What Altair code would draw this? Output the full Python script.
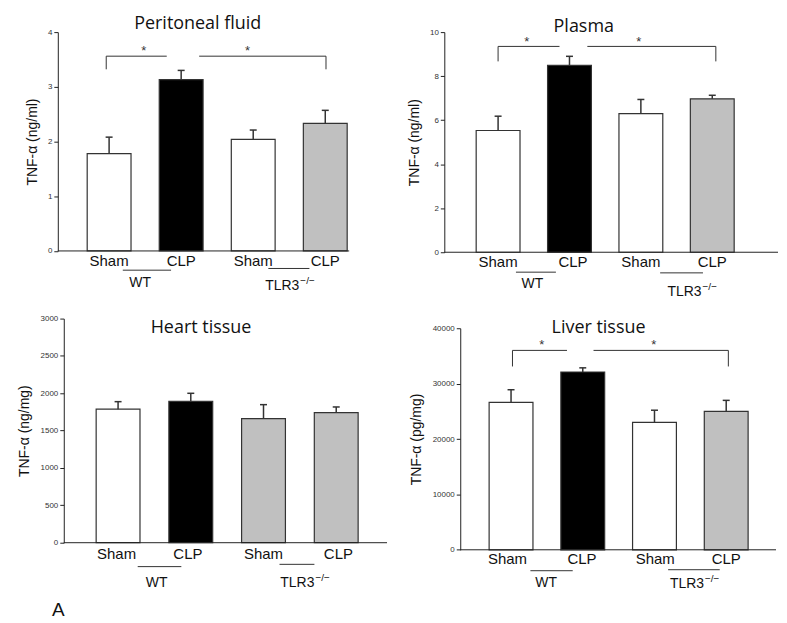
import altair as alt
import pandas as pd

# ---------------- data ----------------
positions = [1, 2, 3, 4]
groups = ["Sham", "CLP", "Sham", "CLP"]

pf_mean = [1.78, 3.13, 2.04, 2.33]      # Peritoneal fluid (ng/ml)
pf_err = [2.08, 3.30, 2.21, 2.57]
pl_mean = [5.53, 8.49, 6.30, 6.97]      # Plasma (ng/ml)
pl_err = [6.18, 8.90, 6.94, 7.13]
ht_mean = [1787, 1893, 1661, 1741]      # Heart tissue (ng/mg)
ht_err = [1888, 2000, 1848, 1817]
lv_mean = [26600, 32100, 23000, 25000]  # Liver tissue (pg/mg)
lv_err = [28900, 32850, 25200, 26980]

pf_ticks = [0, 1, 2, 3, 4]
pl_ticks = [0, 2, 4, 6, 8, 10]
ht_ticks = [0, 500, 1000, 1500, 2000, 2500, 3000]
lv_ticks = [0, 10000, 20000, 30000, 40000]

# significance brackets: (x, x2, y, y2) and star positions (x, y)
pf_brackets = [(0.96, 1.80, 3.56, 3.56), (0.96, 0.96, 3.56, 3.32),
               (2.25, 4.01, 3.56, 3.56), (4.01, 4.01, 3.56, 3.32)]
pf_stars = [(1.48, 3.71), (2.92, 3.71)]
pl_brackets = [(1.00, 1.86, 9.35, 9.35), (1.00, 1.00, 9.35, 8.67),
               (2.25, 4.05, 9.35, 9.35), (4.05, 4.05, 9.35, 8.67)]
pl_stars = [(1.40, 9.68), (2.97, 9.68)]
lv_brackets = [(1.02, 1.78, 36000, 36000), (1.02, 1.02, 36000, 33100),
               (2.15, 4.03, 36000, 36000), (4.03, 4.03, 36000, 33100)]
lv_stars = [(1.43, 37600), (2.99, 37600)]

WHITE, BLACK, GREY = "white", "black", "#c0c0c0"
fills_std = [WHITE, BLACK, WHITE, GREY]
fills_heart = [WHITE, BLACK, GREY, GREY]

FONT = "Liberation Sans"
TFONT = "Open Sans"
INK = "#222222"


def make_panel(mean, err, fills, ticks, ytitle, title, geo, ann, brackets, stars, extra_a=False):
    c1, c4 = geo["c1"], geo["c4"]
    step = (c4 - c1) / 3.0

    def px2x(px):
        return 1 + (px - c1) / step

    xdom = [px2x(geo["origin"]), px2x(geo["right"])]
    width = geo["right"] - geo["origin"]
    height = geo["bottom"] - geo["top"]
    xs = alt.Scale(domain=xdom, nice=False, zero=False)
    ys = alt.Scale(domain=[ticks[0], ticks[-1]], nice=False, zero=False)
    half = 22.0 / step
    cap = 3.5 / step

    df = pd.DataFrame({"pos": positions, "grp": groups, "mean": mean,
                       "err": err, "fill": fills, "zero": [0] * 4})
    base = alt.Chart(df)

    yaxis = alt.Axis(values=ticks, format="d", title=ytitle, grid=False,
                     domainColor=INK, domainWidth=1, tickColor=INK, tickSize=4, tickWidth=1,
                     labelFont=FONT, labelFontSize=8, labelColor="#333", labelPadding=2,
                     titleFont=FONT, titleFontSize=14, titleFontWeight="normal", titleColor="#111",
                     titleAngle=270, titleBaseline="middle", titleAlign="center",
                     titleX=ann["ytitle_x"] - geo["axis"], titleY=height / 2,
                     offset=geo["origin"] - geo["axis"])

    def Y(field):
        return alt.Y(field, scale=ys, axis=yaxis)

    bars = base.transform_calculate(
        xa=f"datum.pos - {half}", xb=f"datum.pos + {half}"
    ).mark_bar(stroke="#333", strokeWidth=1.2).encode(
        x=alt.X("xa:Q", scale=xs, axis=None), x2="xb:Q",
        y=Y("mean:Q"), y2="zero:Q",
        fill=alt.Fill("fill:N", scale=None),
    )
    stems = base.mark_rule(color="#333", strokeWidth=1.5).encode(
        x=alt.X("pos:Q", scale=xs, axis=None),
        y=Y("mean:Q"), y2="err:Q",
    )
    caps = base.transform_calculate(
        ca=f"datum.pos - {cap}", cb=f"datum.pos + {cap}"
    ).mark_rule(color="#333", strokeWidth=1.5).encode(
        x=alt.X("ca:Q", scale=xs, axis=None), x2="cb:Q",
        y=Y("err:Q"),
    )
    baseline = alt.Chart(pd.DataFrame({"a": [px2x(geo["axis"])], "b": [xdom[1]], "z": [0]})).mark_rule(
        color=INK, strokeWidth=1).encode(
        x=alt.X("a:Q", scale=xs, axis=None), x2="b:Q",
        y=Y("z:Q"),
    )
    layers = [bars, stems, caps, baseline]

    if brackets:
        bdf = pd.DataFrame(brackets, columns=["x", "x2", "y", "y2"])
        layers.append(alt.Chart(bdf).mark_rule(color="#333", strokeWidth=1).encode(
            x=alt.X("x:Q", scale=xs, axis=None), x2="x2:Q",
            y=Y("y:Q"), y2="y2:Q"))
        sdf = pd.DataFrame(stars, columns=["x", "y"])
        layers.append(alt.Chart(sdf).mark_text(text="*", font=FONT, fontSize=13, color="#333",
                                               baseline="alphabetic", dy=7).encode(
            x=alt.X("x:Q", scale=xs, axis=None), y=Y("y:Q")))

    # category labels under the axis
    ldf = pd.DataFrame({"x": ann["lab_x"], "t": groups})
    layers.append(alt.Chart(ldf).mark_text(font=FONT, fontSize=15, color="#111",
                                           baseline="alphabetic").encode(
        x=alt.X("x:Q", scale=xs, axis=None), y=alt.value(height + ann["lab_off"]), text="t:N"))
    # group underlines
    for (a, b), off in [(ann["wt_line"], ann["wt_line_off"]), (ann["tlr_line"], ann["tlr_line_off"])]:
        layers.append(alt.Chart(pd.DataFrame({"a": [a], "b": [b]})).mark_rule(
            color="#333", strokeWidth=1).encode(
            x=alt.X("a:Q", scale=xs, axis=None), x2="b:Q", y=alt.value(height + off)))
    # group names
    layers.append(alt.Chart(pd.DataFrame({"x": [ann["wt_x"]], "t": ["WT"]})).mark_text(
        font=FONT, fontSize=14, color="#111", baseline="alphabetic").encode(
        x=alt.X("x:Q", scale=xs, axis=None), y=alt.value(height + ann["wt_off"]), text="t:N"))
    layers.append(alt.Chart(pd.DataFrame({"x": [ann["tlr_end"]], "t": ["TLR3"]})).mark_text(
        font=FONT, fontSize=14, color="#111", baseline="alphabetic", align="right").encode(
        x=alt.X("x:Q", scale=xs, axis=None), y=alt.value(height + ann["tlr_off"]), text="t:N"))
    layers.append(alt.Chart(pd.DataFrame({"x": [ann["tlr_end"]], "t": ["\u2212/\u2212"]})).mark_text(
        font=FONT, fontSize=10, color="#111", baseline="alphabetic", align="left", dx=1).encode(
        x=alt.X("x:Q", scale=xs, axis=None), y=alt.value(height + ann["tlr_off"] - 6), text="t:N"))
    # panel title
    layers.append(alt.Chart(pd.DataFrame({"x": [ann["title_x"]], "t": [title]})).mark_text(
        font=TFONT, fontSize=18, color="#111", baseline="alphabetic").encode(
        x=alt.X("x:Q", scale=xs, axis=None), y=alt.value(ann["title_off"]), text="t:N"))
    if extra_a:
        layers.append(alt.Chart(pd.DataFrame({"x": [px2x(58)], "t": ["A"]})).mark_text(
            font=FONT, fontSize=19, color="#111", baseline="alphabetic").encode(
            x=alt.X("x:Q", scale=xs, axis=None), y=alt.value(height + 73.7), text="t:N"))

    return alt.layer(*layers).properties(width=width, height=height)


geo1 = dict(axis=57.5, origin=63.5, c1=109, c4=326, right=350, top=31, bottom=250.7)
geo2 = dict(axis=445, origin=461, c1=499, c4=714, right=780, top=32.3, bottom=253.3)
geo3 = dict(axis=63.5, origin=63.5, c1=118, c4=337, right=388, top=318.3, bottom=543.3)
geo4 = dict(axis=461, origin=461, c1=512, c4=728, right=778, top=328.3, bottom=550.7)

ann1 = dict(lab_x=[1, 2, 3, 4], lab_off=15.3, wt_line=(1.19, 1.86), wt_line_off=19.3, wt_x=1.43,
            wt_off=36.3, tlr_line=(3.21, 3.78), tlr_line_off=17.6, tlr_end=3.64, tlr_off=39.3,
            title_x=2.23, title_off=-2.7, ytitle_x=31.7)
ann2 = dict(lab_x=[1.0, 2.05, 3.0, 4.0], lab_off=15, wt_line=(1.25, 1.81), wt_line_off=20, wt_x=1.48,
            wt_off=36, tlr_line=(3.27, 3.87), tlr_line_off=20.7, tlr_end=3.85, tlr_off=44,
            title_x=2.20, title_off=-0.6, ytitle_x=415.5)
ann3 = dict(lab_x=[0.98, 1.96, 3.0, 4.03], lab_off=16.7, wt_line=(1.27, 1.87), wt_line_off=24, wt_x=1.53,
            wt_off=44, tlr_line=(3.22, 3.70), tlr_line_off=21.7, tlr_end=3.70, tlr_off=44,
            title_x=2.14, title_off=14.4, ytitle_x=24)
ann4 = dict(lab_x=[0.95, 1.99, 3.01, 4.0], lab_off=14.3, wt_line=(1.27, 1.86), wt_line_off=21, wt_x=1.49,
            wt_off=37.6, tlr_line=(3.19, 3.91), tlr_line_off=20, tlr_end=3.69, tlr_off=38.3,
            title_x=2.22, title_off=5, ytitle_x=416.7)

p1 = make_panel(pf_mean, pf_err, fills_std, pf_ticks, "TNF-\u03b1 (ng/ml)", "Peritoneal fluid",
                geo1, ann1, pf_brackets, pf_stars)
p2 = make_panel(pl_mean, pl_err, fills_std, pl_ticks, "TNF-\u03b1 (ng/ml)", "Plasma",
                geo2, ann2, pl_brackets, pl_stars)
p3 = make_panel(ht_mean, ht_err, fills_heart, ht_ticks, "TNF-\u03b1 (ng/mg)", "Heart tissue",
                geo3, ann3, [], [], extra_a=True)
p4 = make_panel(lv_mean, lv_err, fills_std, lv_ticks, "TNF-\u03b1 (pg/mg)", "Liver tissue",
                geo4, ann4, lv_brackets, lv_stars)

left = alt.vconcat(p1, p3, spacing=geo3["top"] - geo1["bottom"], bounds="flush")
right = alt.vconcat(p2, p4, spacing=geo4["top"] - geo2["bottom"] + 1.3, bounds="flush")

chart = alt.hconcat(left, right, spacing=20).properties(
    padding={"left": 9, "top": 6, "right": 0, "bottom": 0}
).configure(background="white", view=alt.ViewConfig(stroke=None))

chart.save("out.html", embed_options={"renderer": "svg", "actions": False})
